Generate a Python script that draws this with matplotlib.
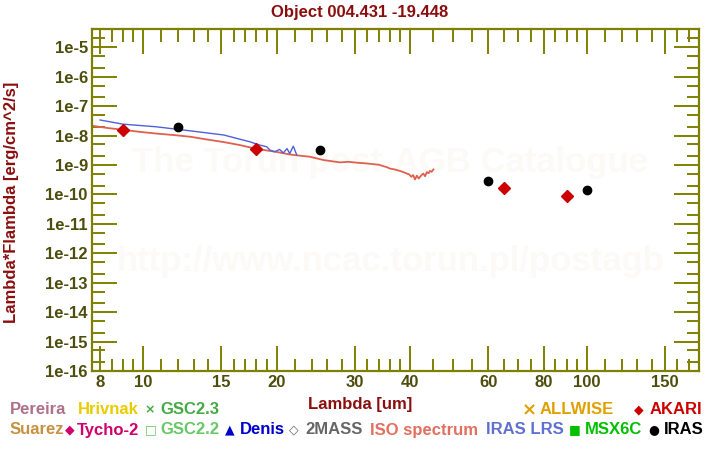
import matplotlib
matplotlib.use("Agg")
import matplotlib.pyplot as plt
from matplotlib.ticker import FixedLocator, FixedFormatter, NullFormatter

plt.rcParams['font.family'] = ['Liberation Sans', 'DejaVu Sans']

# ISO spectrum (wavelength in um, log10 of lambda*F_lambda)
iso_x = [7.7, 8.3, 9.0, 9.8, 10.7, 11.7, 12.8, 13.9, 15.2, 16.5, 18.0, 19.9,
         21.4, 22.2, 23.8, 25.5, 26.6, 27.8, 29.0, 30.3, 31.6, 33.0, 34.0,
         34.8, 35.4, 36.0, 36.9, 37.9, 38.6, 39.3, 39.8, 40.2, 40.6, 41.0,
         41.4, 41.8, 42.1, 42.5, 42.8, 43.2, 43.6, 44.0, 44.3, 44.7, 45.1]
iso_y = [-7.67, -7.74, -7.80, -7.87, -7.93, -7.98, -8.04, -8.13, -8.22, -8.32,
         -8.45, -8.55, -8.64, -8.67, -8.72, -8.83, -8.87, -8.91, -8.89, -8.92,
         -8.94, -8.97, -8.99, -9.04, -9.07, -9.12, -9.15, -9.20, -9.24, -9.29,
         -9.32, -9.40, -9.34, -9.49, -9.36, -9.46, -9.40, -9.33, -9.29, -9.38,
         -9.24, -9.28, -9.20, -9.23, -9.15]

# IRAS LRS spectrum
lrs_x = [8.0, 9.0, 10.7, 12.8, 15.2, 17.4, 18.3, 19.0, 19.3, 19.8, 20.3, 20.7,
         21.1, 21.4, 21.8, 22.2]
lrs_y = [-7.47, -7.61, -7.70, -7.84, -7.98, -8.21, -8.32, -8.38, -8.49, -8.55,
         -8.47, -8.59, -8.44, -8.61, -8.36, -8.66]

# photometry
akari_x = [9, 18, 65, 90]
akari_y = [1.6e-8, 3.4e-9, 1.6e-10, 8.7e-11]
iras_x = [12, 25, 60, 100]
iras_y = [1.9e-8, 3.2e-9, 2.8e-10, 1.4e-10]

x_major = [8, 10, 15, 20, 30, 40, 60, 80, 100, 150]
x_minor = [8.5, 9, 9.5, 11, 12, 13, 14, 16, 17, 18, 19, 22, 24, 26, 28,
           32, 34, 36, 38, 45, 50, 55, 65, 70, 75, 85, 90, 95,
           110, 120, 130, 140, 160, 170]
y_major = [1e-16, 1e-15, 1e-14, 1e-13, 1e-12, 1e-11, 1e-10, 1e-9, 1e-8,
           1e-7, 1e-6, 1e-5]
y_labels = ['1e-16', '1e-15', '1e-14', '1e-13', '1e-12', '1e-11', '1e-10',
            '1e-9', '1e-8', '1e-7', '1e-6', '1e-5']

olive = '#808000'
ticklab = '#4d4d0d'
darkred = '#8b0e0e'

fig = plt.figure(figsize=(7.2, 4.5), dpi=100)
ax = fig.add_axes([92/720, 79/450, 607/720, 342/450])
ax.set_xscale('log')
ax.set_yscale('log')
ax.set_xlim(7.67, 179)
ax.set_ylim(1e-16, 4.2e-5)

# watermark, kept under the data
ax.text(0.542, 0.638, 'The Torun post-AGB Catalogue', color='#fcfaf6',
        fontsize=25, fontweight='bold', ha='center', va='center',
        zorder=0.5, transform=fig.transFigure)
ax.text(0.542, 0.418, 'http://www.ncac.torun.pl/postagb', color='#fcfaf6',
        fontsize=25, fontweight='bold', ha='center', va='center',
        zorder=0.5, transform=fig.transFigure)

ax.plot(iso_x, [10**v for v in iso_y], color='#e06050', lw=1.3, zorder=2)
ax.plot(lrs_x, [10**v for v in lrs_y], color='#5060d8', lw=1.0, zorder=2)
ax.plot(akari_x, akari_y, 'D', color='#cc0000', ms=6.5, ls='none', zorder=3)
ax.plot(iras_x, iras_y, 'o', color='black', ms=6, ls='none', zorder=3)

for s in ax.spines.values():
    s.set_color(olive)
    s.set_linewidth(1.6)

ax.xaxis.set_major_locator(FixedLocator(x_major))
ax.xaxis.set_major_formatter(FixedFormatter([str(v) for v in x_major]))
ax.xaxis.set_minor_locator(FixedLocator(x_minor))
ax.xaxis.set_minor_formatter(NullFormatter())
ax.yaxis.set_major_locator(FixedLocator(y_major))
ax.yaxis.set_major_formatter(FixedFormatter(y_labels))
y_minor = []
for e in range(-16, -4):
    y_minor += [2 * 10.0**e, 5 * 10.0**e]
ax.yaxis.set_minor_locator(FixedLocator(y_minor))
ax.yaxis.set_minor_formatter(NullFormatter())

ax.tick_params(which='both', direction='in', color=olive, width=1.4,
               top=True, right=True, labelcolor=ticklab, labelsize=12)
ax.tick_params(which='major', length=18, pad=3)
ax.tick_params(which='minor', length=9)
for lab in ax.get_xticklabels() + ax.get_yticklabels():
    lab.set_fontweight('bold')

fig.text(0.5, 0.973, 'Object 004.431 -19.448', color=darkred, fontsize=12,
         fontweight='bold', ha='center', va='center')
fig.text(0.5, 0.100, 'Lambda [um]', color=darkred, fontsize=12,
         fontweight='bold', ha='center', va='center')
fig.text(0.016, 0.55, 'Lambda*Flambda [erg/cm^2/s]', color=darkred,
         fontsize=12, fontweight='bold', ha='center', va='center',
         rotation=90)

# legend entries: (row, marker centre px, marker, text px, text, colour)
legend_items = [
    (0, None, '', 10, 'Pereira', '#b07088'),
    (0, None, '', 78, 'Hrivnak', '#e8cc00'),
    (0, 149.5, '\u00d7', 160, 'GSC2.3', '#44aa44'),
    (0, 529.5, '\u00d7', 540, 'ALLWISE', '#e0a000'),
    (0, 639, '\u25c6', 650, 'AKARI', '#cc0000'),
    (1, None, '', 10, 'Suarez', '#c89040'),
    (1, 70, '\u25c6', 77, 'Tycho-2', '#d0006c'),
    (1, 151, '\u25a1', 160, 'GSC2.2', '#66c866'),
    (1, 230, '\u25b2', 240, 'Denis', '#0000cc'),
    (1, 294, '\u25c7', 305, '2MASS', '#666666'),
    (1, None, '', 370, 'ISO spectrum', '#e07060'),
    (1, None, '', 486, 'IRAS LRS', '#6070d0'),
    (1, 575, '\u25a0', 585, 'MSX6C', '#00c000'),
    (1, 654, '\u25cf', 664, 'IRAS', '#000000'),
]
for row, mx, mk, tx, txt, col in legend_items:
    yy = 1 - (410 + row * 20) / 450
    if mx is not None:
        msize = 13 if mk == '\u00d7' and txt == 'ALLWISE' else 9
        fig.text(mx / 720, yy, mk, color=col, fontsize=msize,
                 ha='center', va='center', fontweight='bold',
                 family=['DejaVu Sans'])
    fig.text(tx / 720, yy, txt, color=col, fontsize=12, fontweight='bold',
             ha='left', va='center')

fig.savefig('out.png', dpi=100)
